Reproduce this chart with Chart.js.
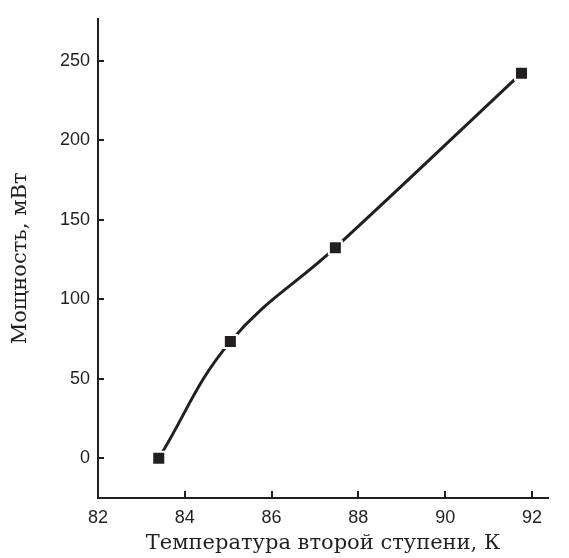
<!DOCTYPE html>
<html>
<head>
<meta charset="utf-8">
<script src="https://cdn.jsdelivr.net/npm/chart.js@4/dist/chart.umd.min.js"></script>
<style>
  html, body { margin: 0; padding: 0; background: #fff; }
  #wrap { width: 569px; height: 558px; }
</style>
</head>
<body>
<div id="wrap"><canvas id="chart" width="569" height="558"></canvas></div>
<script>
// readings from the figure
const temperature = [83.4, 85.05, 87.47, 91.76];
const power = [0, 73.4, 132.5, 242.3];
const xTicks = [82, 84, 86, 88, 90, 92];
const yTicks = [0, 50, 100, 150, 200, 250];

const ink = '#231f20';

// short tick marks pointing into the plot area
const innerTicks = {
  id: 'innerTicks',
  afterDraw(chart) {
    const { ctx, scales: { x, y } } = chart;
    ctx.save();
    ctx.strokeStyle = ink;
    ctx.lineWidth = 2;
    ctx.beginPath();
    xTicks.forEach(v => {
      const px = Math.round(x.getPixelForValue(v));
      ctx.moveTo(px, x.top);
      ctx.lineTo(px, x.top - 7);
    });
    yTicks.forEach(v => {
      const py = Math.round(y.getPixelForValue(v));
      ctx.moveTo(y.right, py);
      ctx.lineTo(y.right + 6, py);
    });
    ctx.stroke();
    ctx.restore();
  }
};

new Chart(document.getElementById('chart'), {
  type: 'line',
  data: {
    datasets: [{
      data: temperature.map((t, i) => ({ x: t, y: power[i] })),
      borderColor: ink,
      borderWidth: 3,
      tension: 0.4,
      fill: false,
      pointStyle: 'rect',
      pointRadius: 9.2,
      pointBackgroundColor: ink,
      pointBorderColor: '#fff',
      pointBorderWidth: 2,
    }],
  },
  options: {
    responsive: false,
    animation: false,
    layout: { padding: { top: 13, right: 21, left: 0, bottom: 0 } },
    plugins: { legend: { display: false }, tooltip: { enabled: false } },
    scales: {
      x: {
        type: 'linear',
        min: 82,
        max: 92.37,
        afterBuildTicks: s => { s.ticks = xTicks.map(v => ({ value: v })); },
        afterFit: s => { s.height = 60; },
        grid: { drawOnChartArea: false, drawTicks: false },
        border: { display: true, color: ink, width: 2 },
        ticks: {
          padding: 9,
          color: ink,
          font: { family: 'Liberation Sans', size: 18 },
          maxRotation: 0,
        },
        title: {
          display: true,
          text: 'Температура второй ступени, К',
          color: ink,
          font: { family: 'DejaVu Serif', size: 21 },
          padding: { top: 0, bottom: 2 },
        },
      },
      y: {
        type: 'linear',
        min: -25,
        max: 276.5,
        afterBuildTicks: s => { s.ticks = yTicks.map(v => ({ value: v })); },
        afterFit: s => { s.width = 98; },
        grid: { drawOnChartArea: false, drawTicks: false },
        border: { display: true, color: ink, width: 2 },
        ticks: {
          padding: 8,
          color: ink,
          font: { family: 'Liberation Sans', size: 18 },
        },
        title: {
          display: true,
          text: 'Мощность, мВт',
          color: ink,
          font: { family: 'DejaVu Serif', size: 21 },
          padding: { top: 8, bottom: 0 },
        },
      },
    },
  },
  plugins: [innerTicks],
});
</script>
</body>
</html>
